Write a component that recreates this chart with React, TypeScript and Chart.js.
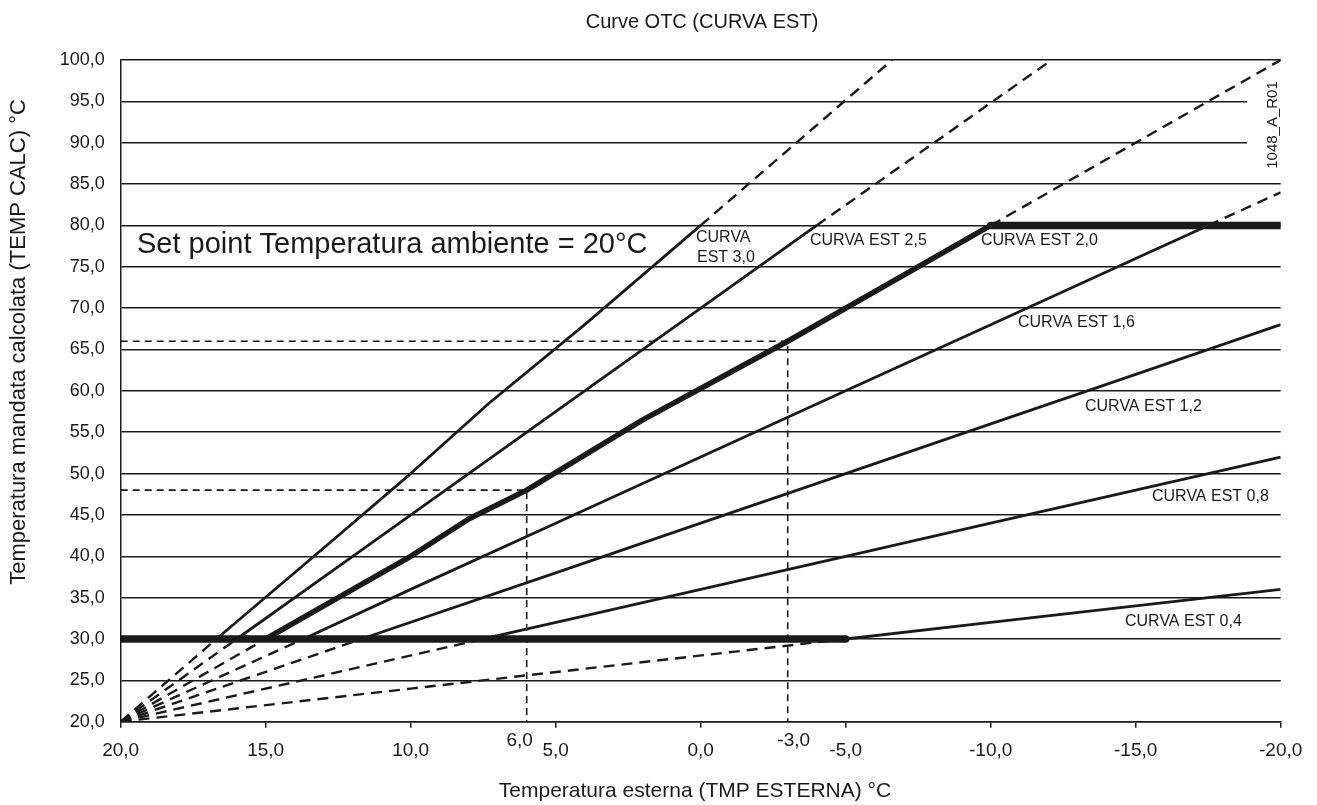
import React, { useEffect, useRef } from 'react';
import { Chart, registerables } from 'chart.js';

Chart.register(...registerables);

// ---- data (outdoor temperature °C -> calculated flow temperature °C) ----
const curve30X = [20, 16.7, 13, 10, 7.3, 4, 0, -6.6];
const curve30Y = [20, 30, 41, 50, 58.5, 68, 80, 100];

const curve25X = [20, 16, 12, 8, 4, 1, -4, -12.1];
const curve25Y = [20, 30, 40, 50, 60, 67.5, 80, 100];

const curve20X = [20, 15, 13.5, 10, 8, 6, 2, -3, -6, -10, -20];
const curve20Y = [20, 30, 33, 40, 44.5, 48, 56.5, 66, 72, 80, 100];

const curve16X = [20, 13.7, 10, 5, 0, -5, -10, -15, -17.5, -20];
const curve16Y = [20, 30, 36, 44, 52, 60, 68, 76, 80, 84];

const curve12X = [20, 11.7, 5, 0, -5, -10, -15, -20];
const curve12Y = [20, 30, 38, 44, 50, 56, 62, 68];

const curve08X = [20, 7.5, 4, 0, -5, -10, -15, -20];
const curve08Y = [20, 30, 32.8, 36, 40, 44, 48, 52];

const curve04X = [20, 10, 6, -3, -5, -10, -15, -20];
const curve04Y = [20, 24, 25.6, 29.2, 30, 32, 34, 36];

const minLimitX = [20, -5];
const minLimitY = [30, 30];
const maxLimitX = [-10, -20];
const maxLimitY = [80, 80];

const example1X = [20, 6, 6];
const example1Y = [48, 48, 20];
const example2X = [20, -3, -3];
const example2Y = [66, 66, 20];

const extraTickValues = [6, -3];
const extraTickLabels = ['6,0', '-3,0'];

const curveLabels = [
  { text: 'CURVA', x: 696, y: 238 },
  { text: 'EST 3,0', x: 697, y: 257.5 },
  { text: 'CURVA EST 2,5', x: 810, y: 240.7 },
  { text: 'CURVA EST 2,0', x: 981, y: 241 },
  { text: 'CURVA EST 1,6', x: 1018, y: 323 },
  { text: 'CURVA EST 1,2', x: 1085, y: 407 },
  { text: 'CURVA EST 0,8', x: 1152, y: 497 },
  { text: 'CURVA EST 0,4', x: 1125, y: 622 },
];

const FONT = '"Liberation Sans", Arial, Helvetica, sans-serif';
const INK = '#1a1a1a';

const pts = (xs: number[], ys: number[]) => xs.map((x, i) => ({ x, y: ys[i] }));

const isDashed = (ctx: any) => {
  const a = ctx.p0.parsed.y;
  const b = ctx.p1.parsed.y;
  return Math.max(a, b) <= 30.01 || Math.min(a, b) >= 79.99;
};

const curveDataset = (xs: number[], ys: number[], solidWidth: number) => ({
  data: pts(xs, ys),
  borderColor: INK,
  borderWidth: solidWidth,
  pointRadius: 0,
  fill: false,
  tension: 0,
  borderJoinStyle: 'round' as const,
  segment: {
    borderDash: (ctx: any) => (isDashed(ctx) ? [11, 7] : undefined),
    borderWidth: (ctx: any) => (isDashed(ctx) ? 2.4 : undefined),
  },
});

const fmt = (v: any) => Number(v).toFixed(1).replace('.', ',');

const textPlugin = {
  id: 'otcTexts',
  beforeDatasetsDraw(chart: any) {
    const ctx = chart.ctx;
    ctx.save();
    ctx.fillStyle = '#ffffff';
    ctx.fillRect(1247, 75, 40, 95);
    ctx.translate(1273, 125);
    ctx.rotate(-Math.PI / 2);
    ctx.fillStyle = INK;
    ctx.font = `15px ${FONT}`;
    ctx.textAlign = 'center';
    ctx.textBaseline = 'middle';
    ctx.fillText('1048_A_R01', 0, 0);
    ctx.restore();
  },
  afterDraw(chart: any) {
    const ctx = chart.ctx;
    const xs = chart.scales.x;
    ctx.save();
    ctx.fillStyle = INK;
    ctx.textBaseline = 'middle';

    // title
    ctx.font = `20px ${FONT}`;
    ctx.textAlign = 'center';
    ctx.fillText('Curve OTC (CURVA EST)', 702, 22);

    // x axis title
    ctx.font = `21px ${FONT}`;
    ctx.fillText('Temperatura esterna (TMP ESTERNA) °C', 695, 791);

    // y axis title
    ctx.save();
    ctx.translate(19, 342);
    ctx.rotate(-Math.PI / 2);
    ctx.font = `22px ${FONT}`;
    ctx.fillText('Temperatura mandata calcolata (TEMP CALC) °C', 0, 0);
    ctx.restore();

    // set point
    ctx.textAlign = 'left';
    ctx.font = `29px ${FONT}`;
    ctx.fillText('Set point Temperatura ambiente = 20°C', 137, 245);

    // curve labels
    ctx.font = `16px ${FONT}`;
    curveLabels.forEach((l) => ctx.fillText(l.text, l.x, l.y));

    // extra x tick labels
    ctx.font = `19px ${FONT}`;
    ctx.textAlign = 'center';
    extraTickValues.forEach((v, i) => {
      const px = xs.getPixelForValue(v);
      const off = v > 0 ? -7 : 6;
      ctx.fillText(extraTickLabels[i], px + off, 741);
    });
    ctx.restore();
  },
};

export default function App() {
  const ref = useRef<HTMLCanvasElement | null>(null);

  useEffect(() => {
    if (!ref.current) return;
    const chart = new Chart(ref.current, {
      type: 'line',
      data: {
        datasets: [
          {
            data: pts(minLimitX, minLimitY),
            borderColor: INK,
            borderWidth: 7.5,
            pointRadius: 0,
            borderCapStyle: 'round',
          } as any,
          {
            data: pts(maxLimitX, maxLimitY),
            borderColor: INK,
            borderWidth: 7.5,
            pointRadius: 0,
            borderCapStyle: 'round',
          } as any,
          {
            data: pts(example1X, example1Y),
            borderColor: INK,
            borderWidth: 1.6,
            borderDash: [7, 5],
            pointRadius: 0,
          },
          {
            data: pts(example2X, example2Y),
            borderColor: INK,
            borderWidth: 1.6,
            borderDash: [7, 5],
            pointRadius: 0,
          },
          curveDataset(curve30X, curve30Y, 2.8),
          curveDataset(curve25X, curve25Y, 2.8),
          curveDataset(curve20X, curve20Y, 5.5),
          curveDataset(curve16X, curve16Y, 2.8),
          curveDataset(curve12X, curve12Y, 2.8),
          curveDataset(curve08X, curve08Y, 2.8),
          curveDataset(curve04X, curve04Y, 2.8),
        ] as any,
      },
      options: {
        animation: false,
        responsive: false,
        devicePixelRatio: 1,
        layout: { padding: { top: 60, right: 36.3, left: 0, bottom: 0 } },
        plugins: {
          legend: { display: false },
          tooltip: { enabled: false },
          title: { display: false },
        },
        scales: {
          x: {
            type: 'linear',
            reverse: true,
            min: -20,
            max: 20,
            afterFit: (s: any) => {
              s.height = 83.3;
            },
            ticks: {
              stepSize: 5,
              callback: fmt,
              color: INK,
              padding: 12,
              font: { family: FONT, size: 19 },
              maxRotation: 0,
            },
            grid: {
              drawOnChartArea: false,
              drawTicks: true,
              tickLength: 6,
              color: INK,
              lineWidth: 1.5,
            },
            border: { display: true, color: INK, width: 1.5 },
          },
          y: {
            type: 'linear',
            min: 20,
            max: 100,
            afterFit: (s: any) => {
              s.width = 120.7;
            },
            ticks: {
              stepSize: 5,
              callback: fmt,
              color: INK,
              padding: 16,
              font: { family: FONT, size: 18 },
            },
            grid: {
              drawOnChartArea: true,
              drawTicks: false,
              color: INK,
              lineWidth: 1.5,
            },
            border: { display: true, color: INK, width: 1.5 },
          },
        },
      } as any,
      plugins: [textPlugin],
    });
    return () => chart.destroy();
  }, []);

  return (
    <div style={{ position: 'fixed', left: 0, top: 0, width: 1317, height: 805, background: '#fff' }}>
      <canvas ref={ref} width={1317} height={805} style={{ width: 1317, height: 805, display: 'block' }} />
    </div>
  );
}
